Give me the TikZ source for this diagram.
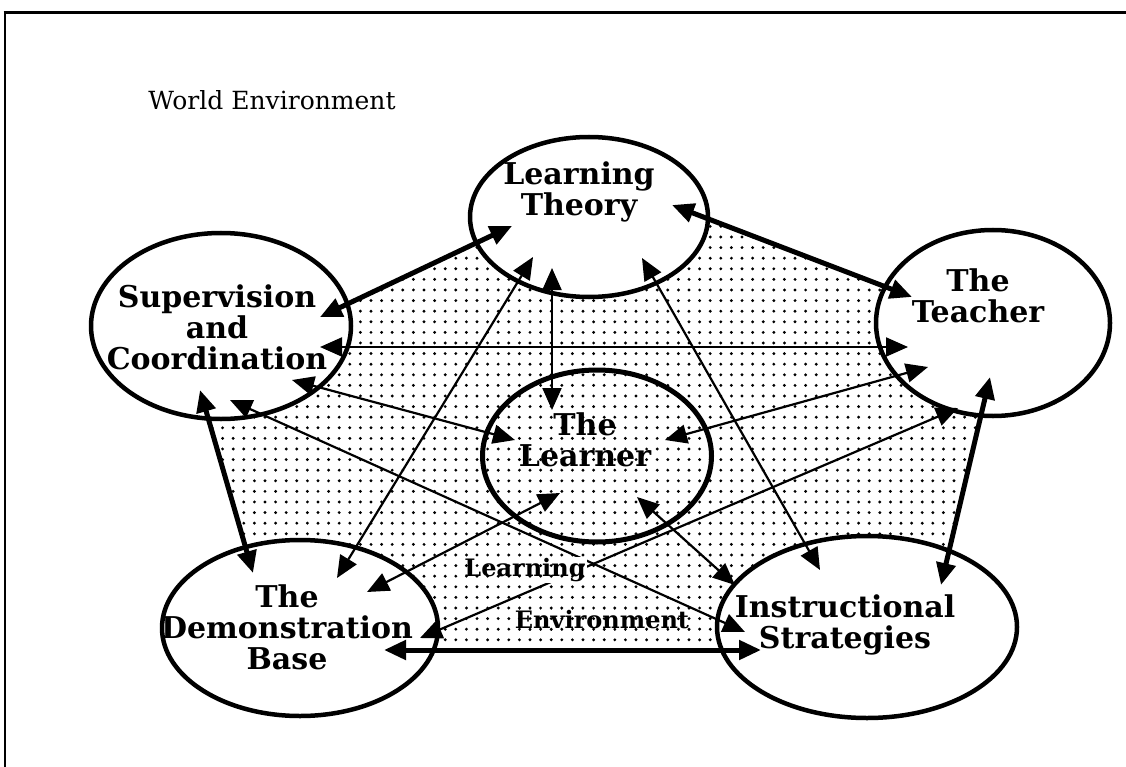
\documentclass[tikz,border=0pt]{standalone}
\usepackage{fontspec}
\setmainfont{DejaVu Serif}
\usetikzlibrary{shapes.geometric,arrows.meta,patterns}

\pgfdeclarepatternformonly{stipple}{\pgfpoint{-2pt}{-2pt}}{\pgfpoint{2pt}{2pt}}{\pgfpoint{10.6pt}{10.6pt}}%
  {\pgfpathcircle{\pgfpointorigin}{1.6pt}\pgfusepath{fill}}

\tikzset{
  blob/.style={ellipse, draw, line width=4.5pt, inner sep=0pt},
  lbl/.style={font=\bfseries\fontsize{30}{31}\selectfont, align=center},
  midlbl/.style={font=\bfseries\fontsize{24}{26}\selectfont, inner sep=1pt, preaction={fill=white}, pattern=stipple},
  link/.style={line width=2.2pt, >={Triangle[length=22pt,width=19pt]}, <->},
  biglink/.style={link, line width=5pt},
}

\begin{document}
\begin{tikzpicture}[x=1pt,y=-1pt]
    \useasboundingbox (0,0) rectangle (1126,767);
    \draw[line width=3pt] (3.5,13) -- (1126,13);
    \draw[line width=2pt] (5,13) -- (5,767);
    \node[font=\fontsize{25}{28}\selectfont] (world) at (272,100) {World Environment};

    % arrow ends, named <at>-<towards>
    \coordinate (SC-LT) at (320,317); \coordinate (LT-SC) at (512,226);
    \coordinate (LT-T) at (672,205);  \coordinate (T-LT) at (912,297);
    \coordinate (T-IS) at (990,377);  \coordinate (IS-T) at (941,585);
    \coordinate (IS-DB) at (761,650); \coordinate (DB-IS) at (384,650);
    \coordinate (DB-SC) at (253,573); \coordinate (SC-DB) at (200,390);
    \coordinate (LT-L) at (552,268);  \coordinate (L-LT) at (552,410);
    \coordinate (SC-T) at (320,347);  \coordinate (T-SC) at (908,347);
    \coordinate (SC-L) at (292,380);  \coordinate (L-SC) at (515,440);
    \coordinate (LT-DB) at (533,257); \coordinate (DB-LT) at (337,578);
    \coordinate (LT-IS) at (642,258); \coordinate (IS-LT) at (820,570);
    \coordinate (T-L) at (928,367);   \coordinate (L-T) at (665,440);
    \coordinate (T-DB) at (958,408);  \coordinate (DB-T) at (420,638);
    \coordinate (L-DB) at (560,493);  \coordinate (DB-L) at (367,592);
    \coordinate (SC-IS) at (230,400); \coordinate (IS-SC) at (745,632);
    \coordinate (L-IS) at (637,497);  \coordinate (IS-L) at (735,585);

    \fill[pattern=stipple] (SC-DB) -- (SC-LT) -- (LT-SC) -- (LT-T) -- (T-LT) -- (T-IS)
        -- (IS-T) -- (IS-DB) -- (DB-IS) -- (DB-SC) -- cycle;

    \node[blob, fill=white, minimum width=238, minimum height=160] (LT) at (589,217) {};
    \node[blob, fill=white, minimum width=260, minimum height=186] (SC) at (221,326) {};
    \node[blob, fill=white, minimum width=234, minimum height=186] (T) at (993,323) {};
    \node[blob, fill=white, minimum width=276, minimum height=176] (DB) at (300,628) {};
    \node[blob, fill=white, minimum width=300, minimum height=182] (IS) at (867,627) {};
    \node[blob, line width=5pt, minimum width=229, minimum height=172] (L) at (597,456) {};

    \node[lbl] (LT-text) at (579,192) {Learning\\Theory};
    \node[lbl] (SC-text) at (217,327) {Supervision\\and\\Coordination};
    \node[lbl] (T-text) at (978,296) {The\\Teacher};
    \node[lbl] (L-text) at (585,440) {The\\Learner};
    \node[lbl] (DB-text) at (287,627) {The\\Demonstration\\Base};
    \node[lbl] (IS-text) at (845,625) {Instructional\\Strategies};

    \foreach \a/\b in {SC-LT/LT-SC, LT-T/T-LT, T-IS/IS-T, IS-DB/DB-IS, DB-SC/SC-DB}
        \draw[biglink] (\a) -- (\b);
    \foreach \a/\b in {LT-L/L-LT, SC-T/T-SC, SC-L/L-SC, LT-DB/DB-LT, LT-IS/IS-LT,
        T-L/L-T, T-DB/DB-T, L-DB/DB-L, SC-IS/IS-SC, L-IS/IS-L}
        \draw[link] (\a) -- (\b);

    \node[midlbl] (env1) at (525,570) {Learning};
    \node[midlbl] (env2) at (602,620) {Environment};
\end{tikzpicture}
\end{document}
